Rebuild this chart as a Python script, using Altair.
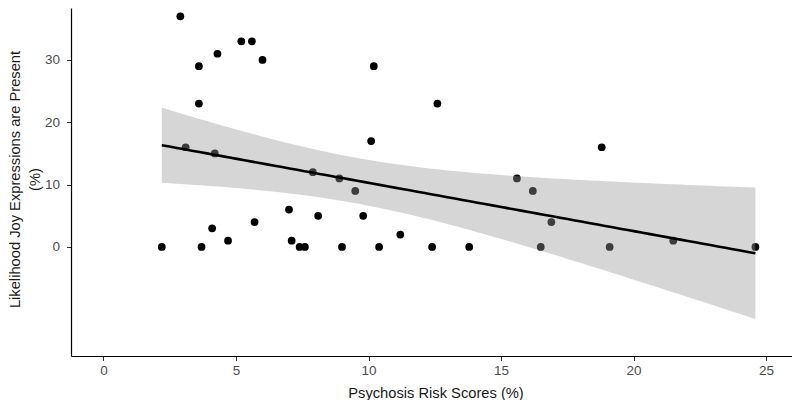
import altair as alt
import numpy as np
import pandas as pd

# Data
risk = [2.2, 2.9, 3.1, 3.6, 3.6, 3.7, 4.1, 4.2, 4.3, 4.7, 5.2, 5.6, 5.7, 6.0,
        7.0, 7.1, 7.4, 7.6, 7.9, 8.1, 8.9, 9.0, 9.5, 9.8, 10.1, 10.2, 10.4,
        11.2, 12.4, 12.6, 13.8, 15.6, 16.2, 16.5, 16.9, 18.8, 19.1, 21.5, 24.6]
joy = [0, 37, 16, 29, 23, 0, 3, 15, 31, 1, 33, 33, 4, 30,
       6, 1, 0, 0, 12, 5, 11, 0, 9, 5, 17, 29, 0,
       2, 0, 23, 0, 11, 9, 0, 4, 16, 0, 1, 0]
x_ticks = [0, 5, 10, 15, 20, 25]
y_ticks = [0, 10, 20, 30]
x_title = "Psychosis Risk Scores (%)"
y_title = ["Likelihood Joy Expressions are Present", "(%)"]

pts = pd.DataFrame({"x": risk, "y": joy})

# Linear model fit with 95% confidence band (as geom_smooth(method="lm"))
xa = np.array(risk, dtype=float)
ya = np.array(joy, dtype=float)
n = len(xa)
b1, b0 = np.polyfit(xa, ya, 1)
resid = ya - (b0 + b1 * xa)
s = np.sqrt(np.sum(resid ** 2) / (n - 2))
sxx = np.sum((xa - xa.mean()) ** 2)
tcrit = 2.026  # t quantile, df = 37
grid = np.linspace(xa.min(), xa.max(), 80)
fit = b0 + b1 * grid
se = s * np.sqrt(1.0 / n + (grid - xa.mean()) ** 2 / sxx)
band = pd.DataFrame({"x": grid, "fit": fit, "lo": fit - tcrit * se, "hi": fit + tcrit * se})

xscale = alt.Scale(domain=[-1.226, 25.98], nice=False, zero=False)
yscale = alt.Scale(domain=[-17.49, 38.34], nice=False, zero=False)

font = "Liberation Sans"

xaxis = alt.Axis(values=x_ticks, title=x_title, grid=False, domainColor="#000000",
                 domainWidth=1.2, tickColor="#333333", tickSize=4.5, tickWidth=1,
                 labelFont=font, labelFontSize=13.5, labelColor="#4D4D4D", labelPadding=3,
                 labelFlush=False, titleFont=font, titleFontSize=14.7, titleFontWeight="normal",
                 titleColor="#1A1A1A", titleX=364.5, titleY=41, titleBaseline="alphabetic",
                 titleAnchor="middle")
yaxis = alt.Axis(values=y_ticks, title=y_title, grid=False, domainColor="#000000",
                 domainWidth=1.2, tickColor="#333333", tickSize=4.5, tickWidth=1,
                 labelFont=font, labelFontSize=13.5, labelColor="#4D4D4D", labelPadding=7,
                 labelFlush=False, titleFont=font, titleFontSize=14.7, titleFontWeight="normal",
                 titleColor="#1A1A1A", titleAngle=270, titleX=-51.5, titleY=171,
                 titleBaseline="alphabetic", titleAlign="center", titleLineHeight=19.5)

points = alt.Chart(pts).mark_circle(size=60, opacity=1, color="#000000").encode(
    x=alt.X("x:Q", scale=xscale, axis=xaxis),
    y=alt.Y("y:Q", scale=yscale, axis=yaxis),
)

ribbon = alt.Chart(band).mark_area(color="#999999", opacity=0.4).encode(
    x=alt.X("x:Q", scale=xscale),
    y=alt.Y("lo:Q", scale=yscale),
    y2="hi:Q",
)

line = alt.Chart(band).mark_line(color="#000000", strokeWidth=2.6).encode(
    x=alt.X("x:Q", scale=xscale),
    y=alt.Y("fit:Q", scale=yscale),
)

chart = alt.layer(points, ribbon, line).properties(
    width=721,
    height=348,
    autosize=alt.AutoSizeParams(type="none"),
    padding={"left": 63, "top": 0, "right": 0, "bottom": 44},
    background="white",
).configure_view(stroke=None)

chart.save("out.html", embed_options={"renderer": "svg", "actions": False})
